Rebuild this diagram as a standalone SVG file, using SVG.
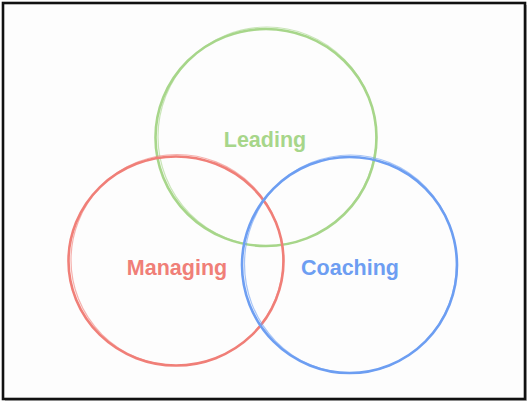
<svg xmlns="http://www.w3.org/2000/svg" width="530" height="405" viewBox="0 0 530 405">
<defs>
<style>
.c{fill:none;stroke-width:2.6;stroke-linecap:round}
.c2{fill:none;stroke-width:1.2;opacity:0.6}
.t{font-family:"Liberation Sans",Arial,sans-serif;font-weight:bold;font-size:21.5px;text-anchor:middle}
</style>
</defs>
<rect x="0" y="0" width="530" height="405" fill="#ffffff"/>
<g id="frame">
<rect x="5" y="5" width="522" height="396" fill="#444" opacity="0.35"/>
<rect x="3" y="3" width="522" height="396" fill="#fdfdfd" stroke="#111" stroke-width="2.6"/>
</g>
<g id="connectors"></g>
<g id="leading">
<ellipse class="c" cx="266" cy="137.5" rx="110.5" ry="108.5" stroke="#a7d68a"/>
<ellipse class="c2" cx="267" cy="136.5" rx="109" ry="109.5" stroke="#a7d68a"/>
<text class="t" x="265" y="147" fill="#a7d68a">Leading</text>
</g>
<g id="managing">
<ellipse class="c" cx="176" cy="261" rx="107.5" ry="104.5" stroke="#f07f78"/>
<ellipse class="c2" cx="177" cy="260" rx="106" ry="105.5" stroke="#f07f78"/>
<text class="t" x="177" y="275" fill="#f07f78">Managing</text>
</g>
<g id="coaching">
<ellipse class="c" cx="349.5" cy="265" rx="107.5" ry="108" stroke="#6d9ef2"/>
<ellipse class="c2" cx="350.5" cy="264" rx="106" ry="109" stroke="#6d9ef2"/>
<text class="t" x="350" y="275" fill="#6d9ef2">Coaching</text>
</g>
</svg>
